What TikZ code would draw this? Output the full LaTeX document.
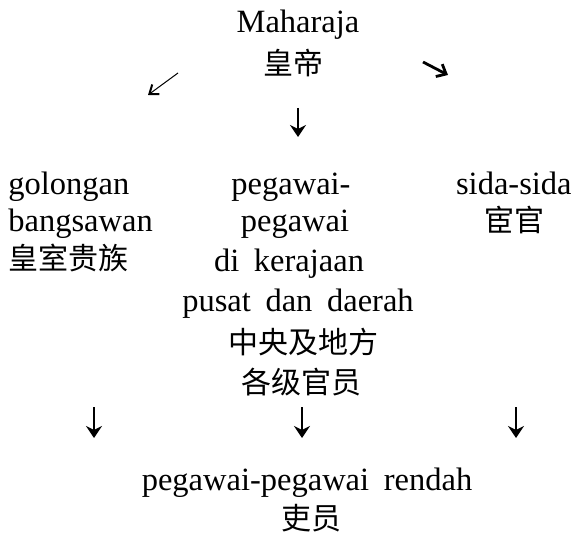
\documentclass[tikz,border=0pt]{standalone}
\usepackage{fontspec}
\setmainfont[WordSpace=1.8]{Liberation Serif}
\newfontfamily\zh{Noto Sans CJK SC}
\usetikzlibrary{arrows.meta}

\tikzset{
  txt/.style={inner sep=0pt, anchor=base, font=\fontsize{16.25}{19}\selectfont},
  zhtxt/.style={inner sep=0pt, anchor=base, font=\zh\fontsize{15}{19}\selectfont},
  down/.style={line width=1pt, -{Stealth[length=6pt,width=8pt,inset=2pt]}},
  slant/.style={line width=0.5pt, -{Straight Barb[length=4pt,width=6pt,line width=1pt]}},
}

\begin{document}
\begin{tikzpicture}[x=0.5pt,y=-0.5pt]
\useasboundingbox (0,0) rectangle (578,534);

\node [txt] (raja) at (298,33) {Maharaja};
\node [zhtxt] (rajazh) at (293,75) {皇帝};

\coordinate (l0) at (178,73);
\coordinate (l1) at (148,95);
\coordinate (r0) at (423,62);
\coordinate (r1) at (448,75);
\coordinate (m0) at (298,108);
\coordinate (m1) at (298,137);
\draw [slant] (l0) -- (l1);
\draw [line width=1.4pt, -{Straight Barb[length=4pt,width=7pt]}] (r0) -- (r1);
\draw [down] (m0) -- (m1);

% left column
\node [txt, anchor=base west] (gol) at (8,195) {golongan};
\node [txt, anchor=base west] (bang) at (8,232) {bangsawan};
\node [zhtxt, anchor=base west] (golzh) at (8,270) {皇室贵族};

% middle column
\node [txt] (peg1) at (291,195) {pegawai-};
\node [txt] (peg2) at (295,232) {pegawai};
\node [txt] (peg3) at (289,271) {di kerajaan};
\node [txt] (peg4) at (298,311) {pusat dan daerah};
\node [zhtxt] (pegzh1) at (303,353) {中央及地方};
\node [zhtxt] (pegzh2) at (301,393) {各级官员};

% right column
\node [txt, anchor=base east] (sida) at (572,195) {sida-sida};
\node [zhtxt] (sidazh) at (514,232) {宦官};

\coordinate (a0) at (94,407);
\coordinate (a1) at (94,438);
\coordinate (b0) at (302,407);
\coordinate (b1) at (302,438);
\coordinate (c0) at (516,407);
\coordinate (c1) at (516,438);
\draw [down] (a0) -- (a1);
\draw [down] (b0) -- (b1);
\draw [down] (c0) -- (c1);

\node [txt] (rendah) at (307,490) {pegawai-pegawai rendah};
\node [zhtxt] (rendahzh) at (311,529) {吏员};
\end{tikzpicture}
\end{document}
